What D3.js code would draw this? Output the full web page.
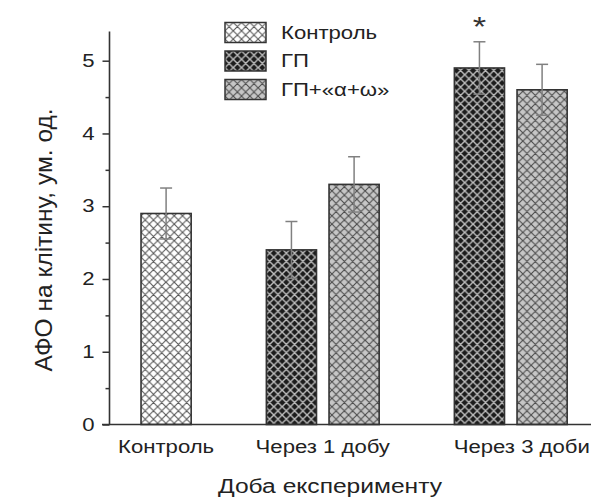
<!DOCTYPE html>
<html><head><meta charset="utf-8">
<script src="https://cdn.jsdelivr.net/npm/d3@7"></script>
<style>html,body{margin:0;padding:0;background:#fff;}svg{display:block;font-family:"Liberation Sans",Arial,sans-serif;}</style>
</head><body>
<script>
// ---- data ----
const categories = ["Контроль", "Через 1 добу", "Через 3 доби"];
const seriesNames = ["Контроль", "ГП", "ГП+«α+ω»"];
// bars: category index, series index, mean, error
const barCategory = [0, 1, 1, 2, 2];
const barSeries   = [0, 1, 2, 1, 2];
const barValues   = [2.9, 2.4, 3.3, 4.9, 4.6];
const barErrors   = [0.35, 0.39, 0.38, 0.36, 0.35];
const barSignificant = [false, false, false, true, false];
const slots = ["s0", "s1", "s2", "s3", "s4", "s5", "s6"];
const barSlot = ["s0", "s2", "s3", "s5", "s6"];
const yTicks = [0, 1, 2, 3, 4, 5];
const yMinorTicks = [0.5, 1.5, 2.5, 3.5, 4.5];
const yTitle = "АФО на клітину, ум. од.";
const xTitle = "Доба експерименту";

const W = 601, H = 502;
const SX = 1.23; // horizontal stretch of lettering
const svg = d3.select("body").append("svg").attr("width", W).attr("height", H);

const y = d3.scaleLinear().domain([0, 5.4]).range([424.5, 424.5 - 5.4 * 72.76]);
const x = d3.scaleBand().domain(slots).range([128.5, 579.7]).paddingInner(0.2).paddingOuter(0.2);

function stext(g, tx, ty, str, size, anchor) {
  return g.append("text").attr("transform", `translate(${tx},${ty}) scale(${SX},1)`)
    .attr("text-anchor", anchor || "start").attr("font-size", size).attr("fill", "#222").text(str);
}

// patterns
const defs = svg.append("defs");
const patStyles = [
  {bg: "#ffffff", line: "#555555", w: 1.1},
  {bg: "#1c1c1c", line: "#bdbdbd", w: 1.4},
  {bg: "#c6c6c6", line: "#4a4a4a", w: 1.1}
];
const P = 8.3;
patStyles.forEach((s, i) => {
  const p = defs.append("pattern").attr("id", "pat" + i)
    .attr("patternUnits", "userSpaceOnUse").attr("width", P).attr("height", P)
    .attr("x", x("s0")).attr("y", 0);
  p.append("rect").attr("width", P).attr("height", P).attr("fill", s.bg);
  p.append("path").attr("d", `M0,0L${P},${P}M${P},0L0,${P}M${-P/2},${P/2}L${P/2},${P*1.5}M${P/2},${-P/2}L${P*1.5},${P/2}M${P/2},${-P/2}L${-P/2},${P/2}M${P*1.5},${P/2}L${P/2},${P*1.5}`)
    .attr("stroke", s.line).attr("stroke-width", s.w).attr("fill", "none");
});

const bars = barValues.map((v, i) => ({v, e: barErrors[i], s: barSeries[i], slot: barSlot[i], sig: barSignificant[i]}));

// bars
svg.append("g").selectAll("rect").data(bars).join("rect")
  .attr("x", d => x(d.slot)).attr("width", x.bandwidth())
  .attr("y", d => y(d.v)).attr("height", d => y(0) - y(d.v))
  .attr("fill", d => `url(#pat${d.s})`).attr("stroke", "#333").attr("stroke-width", 1.6);

// error bars
const eg = svg.append("g").attr("stroke", "#808080").attr("stroke-width", 1.5);
bars.forEach(d => {
  const cx = x(d.slot) + x.bandwidth() / 2;
  eg.append("line").attr("x1", cx).attr("x2", cx).attr("y1", y(d.v - d.e)).attr("y2", y(d.v + d.e));
  eg.append("line").attr("x1", cx - 6).attr("x2", cx + 6).attr("y1", y(d.v + d.e)).attr("y2", y(d.v + d.e));
  eg.append("line").attr("x1", cx - 6).attr("x2", cx + 6).attr("y1", y(d.v - d.e)).attr("y2", y(d.v - d.e));
});

// significance
const sg = svg.append("g");
bars.filter(d => d.sig).forEach(d => {
  stext(sg, x(d.slot) + x.bandwidth() / 2, y(d.v + d.e) - 6, "*", 28, "middle").attr("fill", "#333");
});

// y axis
const yAxis = svg.append("g").attr("transform", "translate(109.5,0)")
  .call(d3.axisLeft(y).tickValues(yTicks).tickSize(7).tickPadding(8).tickFormat(d3.format("d")));
yAxis.select(".domain").remove();
yAxis.selectAll("line").attr("stroke", "#333").attr("stroke-width", 1.5);
yAxis.selectAll("text").attr("font-size", 18).attr("fill", "#222")
  .attr("font-family", "Liberation Sans, Arial, sans-serif")
  .attr("transform", `translate(-15,0) scale(${SX},1)`).attr("x", 0);
const yMinor = svg.append("g").attr("transform", "translate(109.5,0)")
  .call(d3.axisLeft(y).tickValues(yMinorTicks).tickSize(4).tickFormat(""));
yMinor.select(".domain").remove();
yMinor.selectAll("line").attr("stroke", "#333").attr("stroke-width", 1.5);
svg.append("line").attr("x1", 109.5).attr("x2", 109.5).attr("y1", y(5.4)).attr("y2", y(0))
  .attr("stroke", "#333").attr("stroke-width", 1.6);
// baseline
svg.append("line").attr("x1", 102).attr("x2", 591).attr("y1", y(0)).attr("y2", y(0))
  .attr("stroke", "#333").attr("stroke-width", 1.6);

// category labels (last label sits a little right of its bar pair, as in the original)
const catCenter = ci => d3.mean(bars.filter((d, i) => barCategory[i] === ci).map(d => x(d.slot) + x.bandwidth() / 2));
const cg = svg.append("g");
categories.forEach((c, i) => stext(cg, catCenter(i) + (i === categories.length - 1 ? 11 : 0), 453, c, 18, "middle"));

// axis titles
stext(svg, 330, 493, xTitle, 20, "middle");
svg.append("text").attr("transform", `translate(52,240) rotate(-90)`).attr("text-anchor", "middle")
  .attr("font-size", 24.5).attr("fill", "#222").text(yTitle);

// legend
const lg = svg.append("g").attr("transform", "translate(225,22.5)");
seriesNames.forEach((n, i) => {
  const g = lg.append("g").attr("transform", `translate(0,${i * 28.5})`);
  g.append("rect").attr("width", 41).attr("height", 20).attr("fill", `url(#pat${i})`)
    .attr("stroke", "#333").attr("stroke-width", 1.5);
  stext(g, 56, 16, n, 18);
});
</script>
</body></html>
